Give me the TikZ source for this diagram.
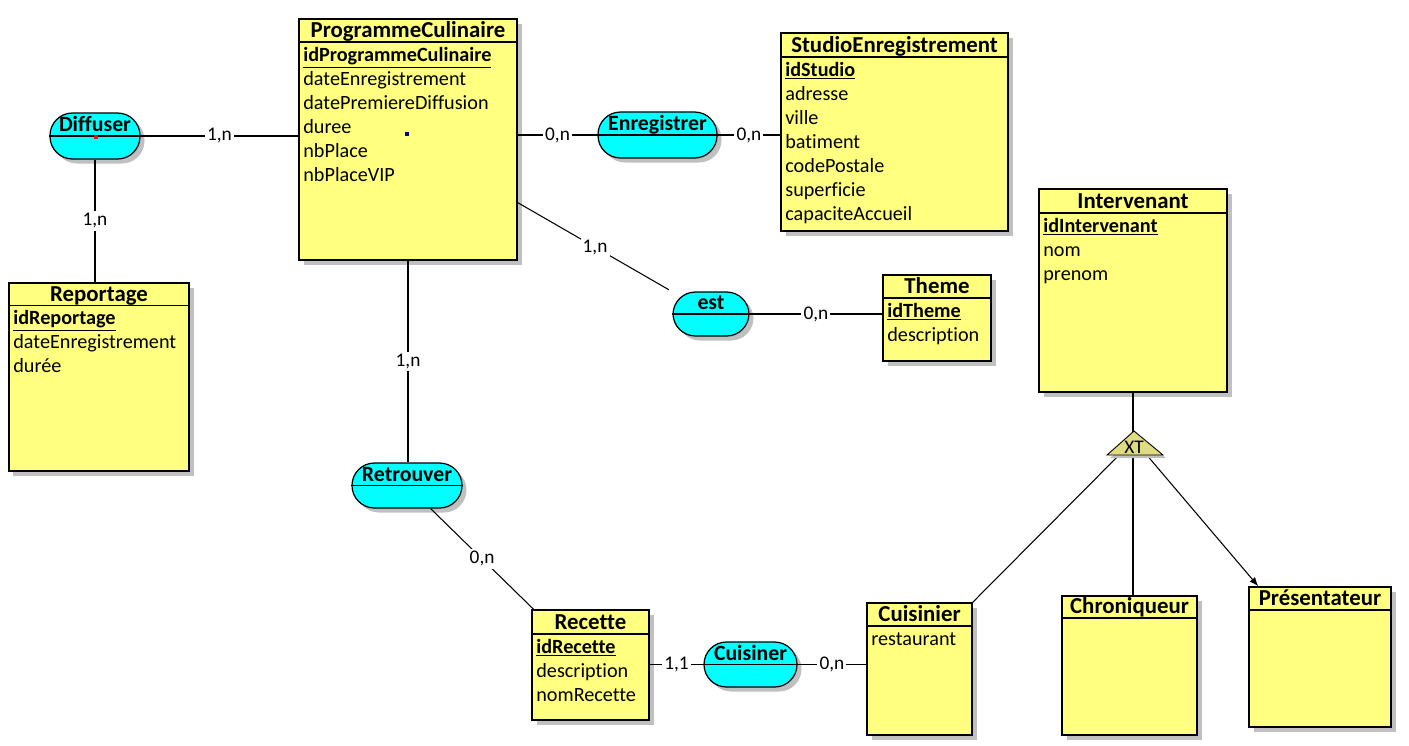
\documentclass[tikz,border=0pt]{standalone}
\usepackage{fontspec}
\setmainfont{Carlito}[Ligatures=NoCommon]
\usetikzlibrary{arrows.meta,fit,shadows}

\newcommand{\idattr}[1]{\underline{\textbf{#1}}}

\begin{document}
\begin{tikzpicture}[
    x=0.02cm, y=-0.02cm,
    >=latex,
]

\definecolor{entityColor}{RGB}{255, 255, 128}
\definecolor{assocColor}{RGB}{0, 255, 255}
\definecolor{shadowColor}{RGB}{192, 192, 192}
\definecolor{xtColor}{RGB}{222, 219, 130}
\definecolor{markRed}{RGB}{255, 0, 0}
\definecolor{markNavy}{RGB}{0, 0, 128}

\tikzset{
    box_shadow/.style = {drop shadow={shadow xshift=0.09cm, shadow yshift=-0.09cm,
                         fill=shadowColor, opacity=1}},
    entity/.style = {rectangle, draw=black, line width=0.85pt, fill=entityColor,
                     inner sep=0pt, box_shadow},
    assoc/.style = {rectangle, rounded corners=0.45cm, draw=black, line width=0.7pt,
                    fill=assocColor, inner sep=0pt, box_shadow},
    ent_title/.style = {anchor=base, inner sep=0pt, font=\fontsize{13}{15}\selectfont\bfseries},
    assoc_title/.style = {anchor=base, inner sep=0pt, font=\fontsize{12.4}{14}\selectfont\bfseries},
    attrs/.style = {anchor=north west, inner sep=0pt, align=left,
                    font=\fontsize{11.5}{13.66}\selectfont},
    head_line/.style = {line width=0.6pt},
    link/.style = {line width=0.6pt},
    card/.style = {fill=white, inner sep=1.2pt, font=\fontsize{11}{13}\selectfont},
    xt_shape/.style = {draw=black, line width=0.5pt, fill=xtColor,
                       drop shadow={shadow xshift=0.06cm, shadow yshift=-0.06cm,
                       fill=shadowColor, opacity=1}},
    xt_text/.style = {inner sep=0pt, font=\fontsize{11}{13}\selectfont},
}

\useasboundingbox (0,0) rectangle (1409,745);

% =========== ENTITIES ===========

% ProgrammeCulinaire
\node[entity, fit={(299,19) (517,260)}] (programme) {};
\node[ent_title] (programme_t) at (408,37.5) {ProgrammeCulinaire};
\draw[head_line] (programme.west |- 0,42) -- (programme.east |- 0,42);
\node[attrs] (programme_a) at (303,44) {\strut\idattr{idProgrammeCulinaire}\\dateEnregistrement\\
    datePremiereDiffusion\\duree\\nbPlace\\nbPlaceVIP};

% StudioEnregistrement
\node[entity, fit={(781,33) (1008,231)}] (studio) {};
\node[ent_title] (studio_t) at (894.5,52.5) {StudioEnregistrement};
\draw[head_line] (studio.west |- 0,57) -- (studio.east |- 0,57);
\node[attrs] (studio_a) at (785,59) {\strut\idattr{idStudio}\\adresse\\ville\\batiment\\
    codePostale\\superficie\\capaciteAccueil};

% Reportage
\node[entity, fit={(9,283) (189,471)}] (reportage) {};
\node[ent_title] (reportage_t) at (99,301) {Reportage};
\draw[head_line] (reportage.west |- 0,305.5) -- (reportage.east |- 0,305.5);
\node[attrs] (reportage_a) at (13,307.5) {\strut\idattr{idReportage}\\dateEnregistrement\\durée};

% Theme
\node[entity, fit={(883,275) (991,361)}] (theme) {};
\node[ent_title] (theme_t) at (937,293.5) {Theme};
\draw[head_line] (theme.west |- 0,298) -- (theme.east |- 0,298);
\node[attrs] (theme_a) at (887,300) {\strut\idattr{idTheme}\\description};

% Intervenant
\node[entity, fit={(1039,189) (1227,392)}] (intervenant) {};
\node[ent_title] (intervenant_t) at (1133,208.5) {Intervenant};
\draw[head_line] (intervenant.west |- 0,213) -- (intervenant.east |- 0,213);
\node[attrs] (intervenant_a) at (1043,215) {\strut\idattr{idIntervenant}\\nom\\prenom};

% Recette
\node[entity, fit={(532,610) (649,720)}] (recette) {};
\node[ent_title] (recette_t) at (590.5,629.5) {Recette};
\draw[head_line] (recette.west |- 0,634) -- (recette.east |- 0,634);
\node[attrs] (recette_a) at (536,636) {\strut\idattr{idRecette}\\description\\nomRecette};

% Cuisinier
\node[entity, fit={(867,603) (972,735)}] (cuisinier) {};
\node[ent_title] (cuisinier_t) at (919.5,621.5) {Cuisinier};
\draw[head_line] (cuisinier.west |- 0,626) -- (cuisinier.east |- 0,626);
\node[attrs] (cuisinier_a) at (871,628) {\strut restaurant};

% Chroniqueur
\node[entity, fit={(1062,596) (1197,735)}] (chroniqueur) {};
\node[ent_title] (chroniqueur_t) at (1129.5,613.5) {Chroniqueur};
\draw[head_line] (chroniqueur.west |- 0,618) -- (chroniqueur.east |- 0,618);

% Presentateur
\node[entity, fit={(1249,587) (1391,727)}] (presentateur) {};
\node[ent_title] (presentateur_t) at (1320,605.5) {Présentateur};
\draw[head_line] (presentateur.west |- 0,610) -- (presentateur.east |- 0,610);

% =========== ASSOCIATIONS ===========

\node[assoc, fit={(50,113) (140,159)}] (diffuser) {};
\draw[head_line] (diffuser.west) -- (diffuser.east);
\node[assoc_title] (diffuser_t) at (95,131.5) {Diffuser};

\node[assoc, fit={(598,112) (717,158)}] (enregistrer) {};
\draw[head_line] (enregistrer.west) -- (enregistrer.east);
\node[assoc_title] (enregistrer_t) at (657.5,130.5) {Enregistrer};

\node[assoc, fit={(673,292) (749,336)}] (est) {};
\draw[head_line] (est.west) -- (est.east);
\node[assoc_title] (est_t) at (711,309.5) {est};

\node[assoc, fit={(352,463) (462,508)}] (retrouver) {};
\draw[head_line] (retrouver.west) -- (retrouver.east);
\node[assoc_title] (retrouver_t) at (407,481) {Retrouver};

\node[assoc, fit={(704,642) (797,687)}] (cuisiner) {};
\draw[head_line] (cuisiner.west) -- (cuisiner.east);
\node[assoc_title] (cuisiner_t) at (750.5,660) {Cuisiner};

% selection marks
\fill[markRed] (93.5,134.5) rectangle (97.5,138.5);
\fill[markNavy] (405,132) rectangle (409,136);

% =========== LINKS ===========

\draw[link] (diffuser.east) -- (diffuser.east -| programme.west)
    node[card, midway] {1,n};
\draw[link] (diffuser.south) -- (diffuser.south |- reportage.north)
    node[card, midway] {1,n};
\draw[link] (enregistrer.west -| programme.east) -- (enregistrer.west)
    node[card, midway] {0,n};
\draw[link] (enregistrer.east) -- (enregistrer.east -| studio.west)
    node[card, midway] {0,n};
\draw[link, shorten >=0.08cm] (programme) -- (est)
    node[card, midway] {1,n};
\draw[link] (est.east) -- (est.east -| theme.west)
    node[card, midway] {0,n};
\draw[link] (programme.south) -- (programme.south |- retrouver.north)
    node[card, midway] {1,n};
\draw[link] (retrouver) -- (recette)
    node[card, midway] {0,n};
\draw[link] (cuisiner.west -| recette.east) -- (cuisiner.west)
    node[card, midway] {1,1};
\draw[link] (cuisiner.east) -- (cuisiner.east -| cuisinier.west)
    node[card, midway] {0,n};

% Inheritance XT
\coordinate (xt_origin) at (1134,440);
\draw[link] (intervenant.south) -- (intervenant.south |- chroniqueur.north);
\draw[link] (xt_origin) -- (cuisinier.north east);
\draw[link, -{Latex[length=1.8mm, width=1.4mm]}] (xt_origin) -- ([xshift=0.2cm]presentateur.north west);
\filldraw[xt_shape] (1134,431) -- (1163,455) -- (1107,455) -- cycle;
\node[xt_text] (xt) at (1134,447) {XT};

\end{tikzpicture}
\end{document}
